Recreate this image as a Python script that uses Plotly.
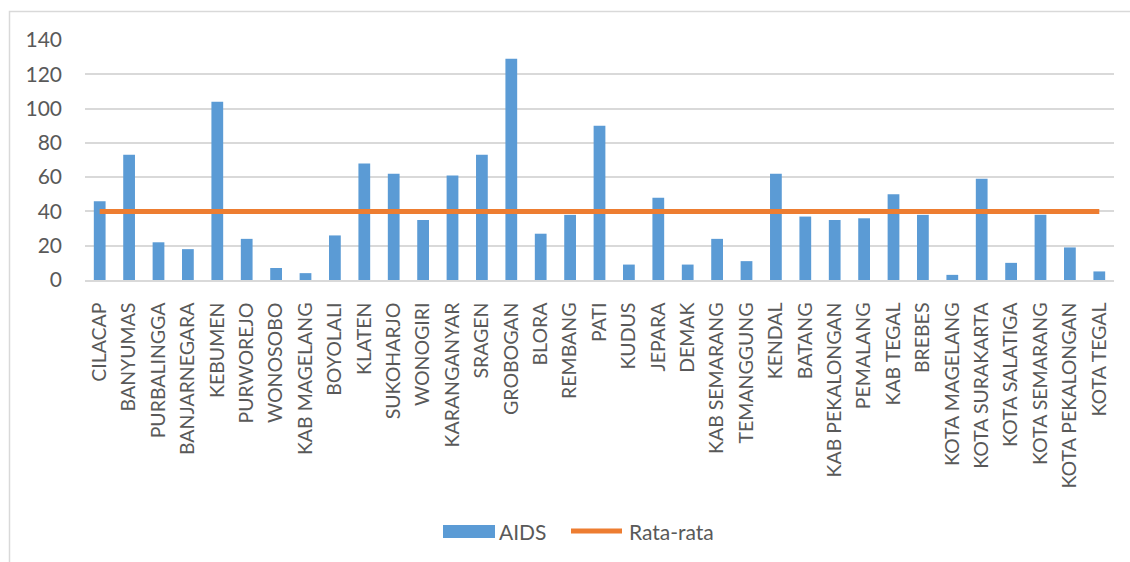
import plotly.graph_objects as go

# Kabupaten/kota di Jawa Tengah
kabupaten = [
    "CILACAP", "BANYUMAS", "PURBALINGGA", "BANJARNEGARA", "KEBUMEN",
    "PURWOREJO", "WONOSOBO", "KAB MAGELANG", "BOYOLALI", "KLATEN",
    "SUKOHARJO", "WONOGIRI", "KARANGANYAR", "SRAGEN", "GROBOGAN",
    "BLORA", "REMBANG", "PATI", "KUDUS", "JEPARA",
    "DEMAK", "KAB SEMARANG", "TEMANGGUNG", "KENDAL", "BATANG",
    "KAB PEKALONGAN", "PEMALANG", "KAB TEGAL", "BREBES", "KOTA MAGELANG",
    "KOTA SURAKARTA", "KOTA SALATIGA", "KOTA SEMARANG", "KOTA PEKALONGAN", "KOTA TEGAL",
]

# Jumlah kasus AIDS per kabupaten/kota
aids = [
    46, 73, 22, 18, 104,
    24, 7, 4, 26, 68,
    62, 35, 61, 73, 129,
    27, 38, 90, 9, 48,
    9, 24, 11, 62, 37,
    35, 36, 50, 38, 3,
    59, 10, 38, 19, 5,
]

# Rata-rata kasus
rata_rata = 40

y_ticks = [0, 20, 40, 60, 80, 100, 120, 140]

series_names = ["AIDS", "Rata-rata"]

BLUE = "#5B9BD5"
ORANGE = "#ED7D31"
GRID = "#D9D9D9"
TEXT = "#595959"
FONT = "Lato"

W, H = 1130, 562
ML, MR, MT, MB = 85, 16, 40, 282
PW = W - ML - MR
PH = H - MT - MB


def px_x(px):
    return (px - ML) / PW


def px_y(py):
    return (H - MB - py) / PH


fig = go.Figure()

fig.add_trace(go.Bar(
    x=kabupaten, y=aids, name=series_names[0],
    marker=dict(color=BLUE, line=dict(width=0)),
    showlegend=False,
))

fig.add_trace(go.Scatter(
    x=[kabupaten[0], kabupaten[-1]], y=[rata_rata, rata_rata],
    mode="lines", name=series_names[1],
    line=dict(color=ORANGE, width=5),
    showlegend=False,
))

shapes = [
    # chart border
    dict(type="rect", xref="paper", yref="paper",
         x0=px_x(9.5), x1=px_x(W + 10), y0=px_y(11.5), y1=px_y(H + 10),
         line=dict(color=GRID, width=1.5), fillcolor="rgba(0,0,0,0)", layer="below"),
    # legend swatches
    dict(type="rect", xref="paper", yref="paper",
         x0=px_x(443), x1=px_x(495), y0=px_y(525), y1=px_y(538),
         line=dict(width=0), fillcolor=BLUE),
    dict(type="line", xref="paper", yref="paper",
         x0=px_x(571), x1=px_x(622), y0=px_y(531), y1=px_y(531),
         line=dict(color=ORANGE, width=5)),
]

annotations = [
    dict(text=series_names[0], xref="paper", yref="paper",
         x=px_x(497), y=px_y(531), xanchor="left", yanchor="middle",
         showarrow=False, font=dict(family=FONT, size=21, color=TEXT)),
    dict(text=series_names[1], xref="paper", yref="paper",
         x=px_x(627), y=px_y(531), xanchor="left", yanchor="middle",
         showarrow=False, font=dict(family=FONT, size=21, color=TEXT)),
]

fig.update_layout(
    width=W, height=H, autosize=False,
    margin=dict(l=ML, r=MR, t=MT, b=MB, autoexpand=False),
    paper_bgcolor="white", plot_bgcolor="white",
    font=dict(family=FONT, size=20, color=TEXT),
    bargap=0.6,
    showlegend=False,
    shapes=shapes,
    annotations=annotations,
    xaxis=dict(
        type="category", tickangle=-90, showgrid=False,
        showline=True, linecolor=GRID, linewidth=1.5,
        ticks="", ticklabelstandoff=13, automargin=False,
        tickfont=dict(family=FONT, size=19.5, color=TEXT),
    ),
    yaxis=dict(
        range=[0, 140], tickvals=y_ticks, showgrid=True,
        gridcolor=GRID, gridwidth=1.5, zeroline=False, showline=False,
        ticks="", ticklabelstandoff=22, automargin=False,
        tickfont=dict(family=FONT, size=21, color=TEXT),
    ),
)

fig.write_html("out.html")
